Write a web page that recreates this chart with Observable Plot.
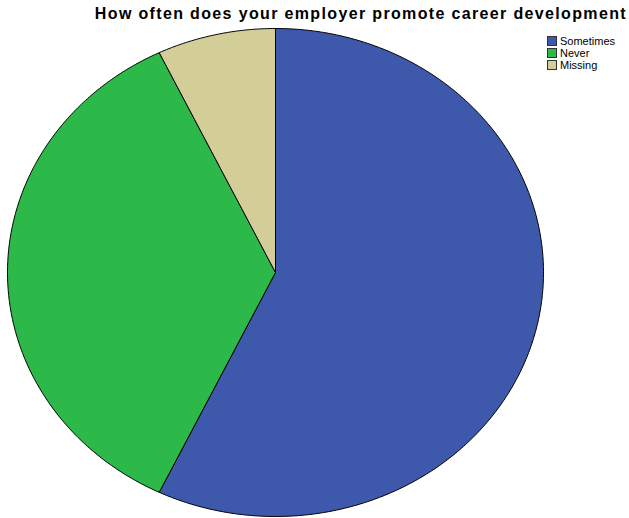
<!DOCTYPE html>
<html>
<head>
<meta charset="utf-8">
<script src="https://cdn.jsdelivr.net/npm/d3@7"></script>
<script src="https://cdn.jsdelivr.net/npm/@observablehq/plot@0.6"></script>
<style>
  body { margin: 0; background: #fff; }
  #wrap { position: relative; width: 629px; height: 518px; font-family: "Liberation Sans", Arial, sans-serif; }
  #title { position: absolute; left: 0; top: 5px; width: 627px; text-align: right; font-weight: bold; font-size: 16px; letter-spacing: 1.35px; color: #000; white-space: nowrap; }
  #legend { position: absolute; left: 547px; top: 35px; font-size: 11px; color: #000; }
  .row { display: flex; align-items: center; height: 12px; }
  .sw { width: 10px; height: 10px; border: 1px solid #333; box-sizing: border-box; margin-right: 3px; }
  #chart { position: absolute; left: 0; top: 0; }
</style>
</head>
<body>
<div id="wrap">
  <div id="chart"></div>
  <div id="title"></div>
  <div id="legend"></div>
</div>
<script>
const title = "How often does your employer promote career development";
const categories = ["Sometimes", "Never", "Missing"];
const values = [8, 5, 1];
const colors = ["#3e58ac", "#2db84a", "#d3ce97"];

const pie = d3.pie().sort(null).value(d => d.value).startAngle(0).endAngle(2 * Math.PI);
const arcs = pie(categories.map((c, i) => ({category: c, value: values[i]})));

// Build slice outlines in unit coordinates (the x/y scales stretch them into an ellipse)
const pts = [];
for (const a of arcs) {
  const c = a.data.category;
  pts.push({category: c, x: 0, y: 0});
  const n = Math.max(2, Math.ceil((a.endAngle - a.startAngle) / 0.01));
  for (let k = 0; k <= n; k++) {
    const t = a.startAngle + (a.endAngle - a.startAngle) * k / n;
    pts.push({category: c, x: Math.sin(t), y: Math.cos(t)});
  }
  pts.push({category: c, x: 0, y: 0});
}

const plot = Plot.plot({
  width: 629,
  height: 518,
  marginLeft: 7,
  marginRight: 86,
  marginTop: 28,
  marginBottom: 2,
  x: {domain: [-1, 1], axis: null},
  y: {domain: [-1, 1], axis: null},
  color: {domain: categories, range: colors},
  marks: [
    Plot.line(pts, {x: "x", y: "y", z: "category", fill: "category", stroke: "#000", strokeWidth: 1, curve: "linear"})
  ]
});
document.getElementById("chart").appendChild(plot);

document.getElementById("title").textContent = title;
const leg = document.getElementById("legend");
categories.forEach((c, i) => {
  const row = document.createElement("div");
  row.className = "row";
  const sw = document.createElement("div");
  sw.className = "sw";
  sw.style.background = colors[i];
  const lab = document.createElement("span");
  lab.textContent = c;
  row.appendChild(sw);
  row.appendChild(lab);
  leg.appendChild(row);
});
</script>
</body>
</html>
